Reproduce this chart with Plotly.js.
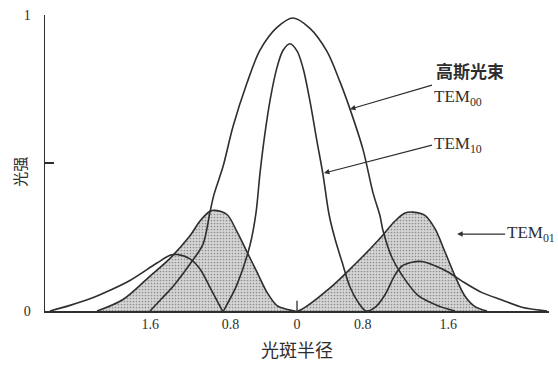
<!DOCTYPE html>
<html>
<head>
<meta charset="utf-8">
<script src="https://cdn.plot.ly/plotly-3.0.1.min.js"></script>
<style>
  html, body { margin: 0; padding: 0; background: #ffffff; }
  #chart { width: 558px; height: 368px; }
</style>
</head>
<body>
<div id="chart"></div>
<script>
// Beam-radius positions of the labelled ticks and their texts
const xTickPos = [-1.63, -0.74, 0, 0.73, 1.68];
const xTickText = ['1.6', '0.8', '0', '0.8', '1.6'];
const yTickPos = [0, 1];
const yTickText = ['0', '1'];
const yMidTick = [0.5];

// Gaussian beam, TEM00: radius / relative intensity
const gaussR = [-1.633, -1.5, -1.378, -1.189, -1.044, -0.967, -0.922, -0.822, -0.711, -0.556, -0.411, -0.222, -0.044,
                0.144, 0.333, 0.478, 0.589, 0.733, 0.844, 0.922, 0.956, 1.056, 1.167, 1.344, 1.567, 1.756];
const gaussI = [0, 0.043, 0.083, 0.159, 0.226, 0.334, 0.394, 0.488, 0.623, 0.770, 0.881, 0.958, 0.990,
                0.955, 0.877, 0.774, 0.682, 0.546, 0.400, 0.322, 0.271, 0.180, 0.121, 0.053, 0.018, 0];

// TEM10: narrow central peak with two side lobes
const tem10R = [-2.744, -2.522, -2.3, -2.078, -1.856, -1.556, -1.411, -1.333, -1.189, -1.078, -0.967, -0.856, -0.822,
                -0.778, -0.667, -0.522, -0.456, -0.411, -0.356, -0.3, -0.222, -0.156, -0.078, 0, 0.067, 0.144,
                0.222, 0.289, 0.356, 0.422, 0.5, 0.589, 0.678, 0.767, 0.867, 0.978, 1.089, 1.167, 1.278, 1.389,
                1.533, 1.678, 1.833, 2.056, 2.278, 2.511, 2.778];
const tem10I = [0, 0.019, 0.041, 0.070, 0.103, 0.162, 0.188, 0.191, 0.176, 0.142, 0.080, 0.016, 0,
                0.022, 0.089, 0.223, 0.331, 0.466, 0.600, 0.711, 0.823, 0.880, 0.903, 0.879, 0.821, 0.709,
                0.573, 0.461, 0.326, 0.244, 0.166, 0.081, 0.030, 0, 0.012, 0.055, 0.122, 0.152, 0.165, 0.167,
                0.153, 0.132, 0.101, 0.062, 0.037, 0.012, 0];

// TEM01: two lobes, drawn shaded
const tem01R = [-2.222, -1.933, -1.633, -1.411, -1.189, -1.078, -0.967, -0.911, -0.778, -0.667, -0.556, -0.444,
                -0.333, -0.222, -0.1, 0.011, 0.344, 0.644, 0.9, 1.089, 1.2, 1.289, 1.422, 1.533, 1.644, 1.756,
                1.867, 1.978, 2.111];
const tem01I = [0, 0.039, 0.118, 0.178, 0.254, 0.304, 0.337, 0.340, 0.326, 0.268, 0.200, 0.131,
                0.063, 0.018, 0.005, 0, 0.072, 0.158, 0.238, 0.304, 0.331, 0.334, 0.323, 0.278, 0.200, 0.118,
                0.050, 0.015, 0];

const ink = '#2e2e2e';
const serif = 'Liberation Serif, Times New Roman, serif';
const cjk = 'Noto Sans CJK SC, sans-serif';

const lineStyle = { color: ink, width: 1.6, shape: 'spline', smoothing: 0.9 };

const traces = [
  {
    name: 'TEM01', x: tem01R, y: tem01I, type: 'scatter', mode: 'lines',
    line: lineStyle, fill: 'tozeroy', fillcolor: '#d2d2d2',
    fillpattern: { shape: '.', bgcolor: '#d6d6d6', fgcolor: '#8e8e8e', size: 3, solidity: 0.25 }
  },
  { name: 'TEM00', x: gaussR, y: gaussI, type: 'scatter', mode: 'lines', line: lineStyle },
  { name: 'TEM10', x: tem10R, y: tem10I, type: 'scatter', mode: 'lines', line: lineStyle }
];

// Mode label with a leader arrow: (x, y) is the arrow tip on the curve,
// (ax, ay) the pixel offset of the label's anchor corner from the tip.
function modeLabel(sub, x, y, ax, ay, yanchor) {
  return {
    x: x, y: y, xref: 'x', yref: 'y',
    text: 'TEM<sub>' + sub + '</sub>',
    xanchor: 'left', yanchor: yanchor,
    showarrow: true, ax: ax, ay: ay,
    arrowhead: 2, arrowsize: 0.9, arrowwidth: 1.2, arrowcolor: ink,
    font: { family: serif, size: 17, color: ink }
  };
}

const layout = {
  width: 558, height: 368,
  margin: { l: 45, r: 9, t: 15, b: 57 },
  paper_bgcolor: '#ffffff', plot_bgcolor: '#ffffff',
  showlegend: false,
  xaxis: {
    range: [-2.8, 2.8], showgrid: false, zeroline: false,
    showline: true, linecolor: ink, linewidth: 1.5,
    tickvals: xTickPos, ticktext: xTickText, ticks: '',
    tickfont: { family: serif, size: 14, color: ink },
    title: { text: '光斑半径', font: { family: cjk, size: 18, color: ink }, standoff: 13 }
  },
  yaxis: {
    range: [0, 1], showgrid: false, zeroline: false,
    showline: true, linecolor: ink, linewidth: 1.5,
    tickvals: yTickPos, ticktext: yTickText, ticks: 'inside', ticklen: 9, tickwidth: 1.3, tickcolor: ink,
    minor: { tickvals: yMidTick, ticks: 'inside', ticklen: 9, tickwidth: 1.3, tickcolor: ink, showgrid: false },
    ticklabelstandoff: 10,
    tickfont: { family: serif, size: 14, color: ink }
  },
  shapes: [
    // short mark at the beam centre
    { type: 'line', xref: 'x', yref: 'y', x0: 0, x1: 0, y0: 0, y1: 0.035, line: { color: ink, width: 1.3 } }
  ],
  annotations: [
    {
      x: -0.05, y: 0.47, xref: 'paper', yref: 'paper', text: '光强', textangle: -90, showarrow: false,
      xanchor: 'center', yanchor: 'middle',
      font: { family: cjk, size: 15, color: ink }
    },
    {
      x: 1.92, y: 0.814, xref: 'x', yref: 'y', text: '高斯光束', showarrow: false,
      font: { family: cjk, size: 17, color: ink, weight: 700 }
    },
    modeLabel('00', 0.589, 0.682, 82, -24, 'top'),
    modeLabel('10', 0.30, 0.466, 108, -28, 'middle'),
    modeLabel('01', 1.78, 0.26, 48, 0, 'middle')
  ]
};

Plotly.newPlot('chart', traces, layout, { staticPlot: true, displayModeBar: false });
</script>
</body>
</html>
